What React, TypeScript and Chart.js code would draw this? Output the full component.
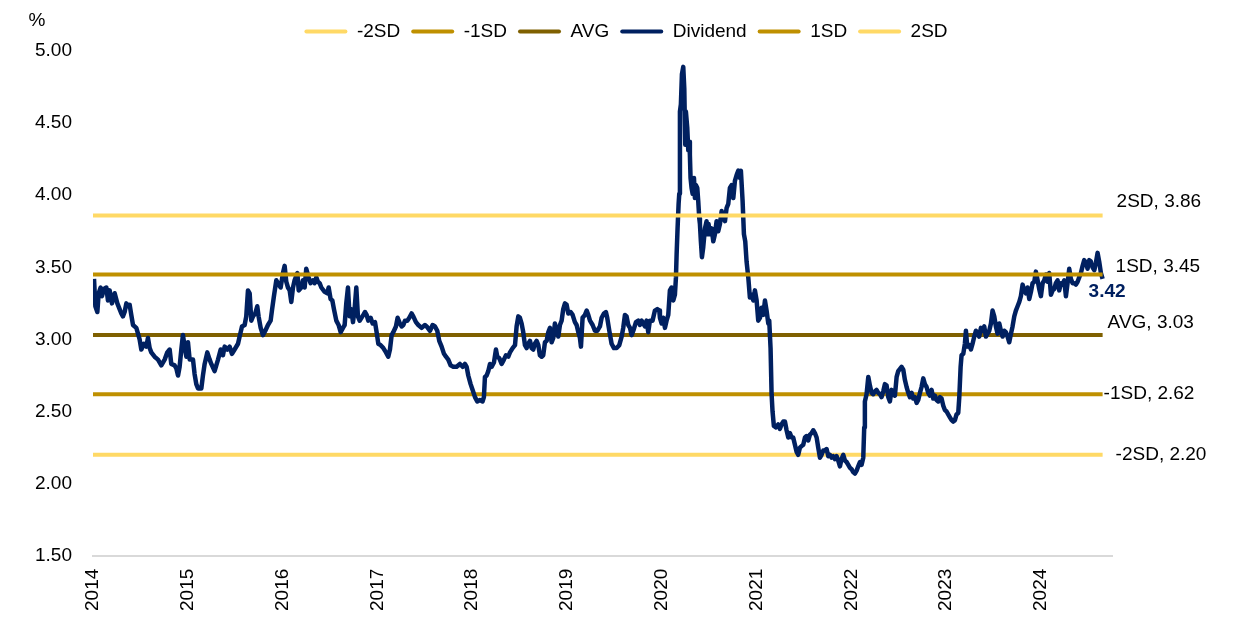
import { useEffect, useRef } from "react";
import { Chart, registerables } from "chart.js";

Chart.register(...registerables);

// Dividend yield series (%), x = decimal year
const divYears = [
  2014.011, 2014.025, 2014.046, 2014.060, 2014.081, 2014.095, 2014.116, 2014.141, 2014.158, 2014.176,
  2014.200, 2014.229, 2014.257, 2014.281, 2014.299, 2014.316, 2014.334, 2014.352, 2014.369, 2014.387,
  2014.404, 2014.422, 2014.457, 2014.475, 2014.492, 2014.510, 2014.538, 2014.563, 2014.580, 2014.598,
  2014.615, 2014.650, 2014.686, 2014.721, 2014.756, 2014.784, 2014.809, 2014.826, 2014.861, 2014.879,
  2014.897, 2014.914, 2014.932, 2014.949, 2014.967, 2014.985, 2015.002, 2015.020, 2015.055, 2015.072,
  2015.090, 2015.108, 2015.143, 2015.160, 2015.178, 2015.206, 2015.231, 2015.248, 2015.283, 2015.301,
  2015.319, 2015.347, 2015.371, 2015.389, 2015.417, 2015.442, 2015.466, 2015.494, 2015.530, 2015.547,
  2015.572, 2015.600, 2015.617, 2015.635, 2015.653, 2015.670, 2015.688, 2015.712, 2015.733, 2015.747,
  2015.769, 2015.793, 2015.818, 2015.846, 2015.874, 2015.888, 2015.909, 2015.934, 2015.951, 2015.980,
  2016.004, 2016.022, 2016.039, 2016.057, 2016.075, 2016.092, 2016.110, 2016.127, 2016.156, 2016.170,
  2016.198, 2016.215, 2016.233, 2016.250, 2016.275, 2016.296, 2016.321, 2016.338, 2016.356, 2016.373,
  2016.391, 2016.409, 2016.444, 2016.472, 2016.486, 2016.507, 2016.525, 2016.542, 2016.567, 2016.591,
  2016.613, 2016.637, 2016.655, 2016.672, 2016.690, 2016.707, 2016.725, 2016.743, 2016.760, 2016.778,
  2016.795, 2016.813, 2016.852, 2016.869, 2016.887, 2016.904, 2016.929, 2016.950, 2016.975, 2016.992,
  2017.010, 2017.035, 2017.063, 2017.091, 2017.115, 2017.133, 2017.151, 2017.168, 2017.196, 2017.214,
  2017.238, 2017.256, 2017.274, 2017.291, 2017.316, 2017.337, 2017.361, 2017.379, 2017.407, 2017.432,
  2017.467, 2017.502, 2017.520, 2017.555, 2017.583, 2017.608, 2017.632, 2017.653, 2017.678, 2017.703,
  2017.724, 2017.748, 2017.773, 2017.801, 2017.836, 2017.871, 2017.900, 2017.924, 2017.942, 2017.959,
  2017.984, 2018.005, 2018.030, 2018.054, 2018.082, 2018.110, 2018.124, 2018.135, 2018.153, 2018.170,
  2018.188, 2018.205, 2018.230, 2018.251, 2018.265, 2018.286, 2018.311, 2018.335, 2018.357, 2018.381,
  2018.399, 2018.427, 2018.452, 2018.469, 2018.487, 2018.504, 2018.522, 2018.539, 2018.557, 2018.575,
  2018.592, 2018.610, 2018.627, 2018.645, 2018.662, 2018.680, 2018.698, 2018.715, 2018.733, 2018.750,
  2018.768, 2018.786, 2018.803, 2018.821, 2018.838, 2018.856, 2018.873, 2018.891, 2018.909, 2018.926,
  2018.944, 2018.961, 2018.979, 2018.997, 2019.014, 2019.039, 2019.060, 2019.084, 2019.102, 2019.120,
  2019.137, 2019.148, 2019.165, 2019.190, 2019.208, 2019.225, 2019.243, 2019.271, 2019.295, 2019.320,
  2019.348, 2019.366, 2019.390, 2019.411, 2019.425, 2019.447, 2019.471, 2019.496, 2019.524, 2019.552,
  2019.577, 2019.594, 2019.612, 2019.629, 2019.647, 2019.665, 2019.682, 2019.700, 2019.728, 2019.752,
  2019.770, 2019.788, 2019.805, 2019.823, 2019.840, 2019.858, 2019.875, 2019.903, 2019.928, 2019.953,
  2019.974, 2019.981, 2019.999, 2020.016, 2020.034, 2020.051, 2020.069, 2020.086, 2020.104, 2020.122,
  2020.139, 2020.150, 2020.157, 2020.167, 2020.178, 2020.185, 2020.192, 2020.202, 2020.213, 2020.227,
  2020.238, 2020.248, 2020.255, 2020.269, 2020.280, 2020.290, 2020.297, 2020.304, 2020.315, 2020.326,
  2020.340, 2020.350, 2020.361, 2020.375, 2020.385, 2020.396, 2020.403, 2020.413, 2020.424, 2020.438,
  2020.456, 2020.473, 2020.484, 2020.494, 2020.508, 2020.526, 2020.544, 2020.561, 2020.579, 2020.596,
  2020.614, 2020.632, 2020.649, 2020.667, 2020.684, 2020.702, 2020.719, 2020.737, 2020.755, 2020.772,
  2020.790, 2020.807, 2020.825, 2020.835, 2020.853, 2020.867, 2020.881, 2020.895, 2020.913, 2020.930,
  2020.948, 2020.966, 2020.983, 2021.001, 2021.018, 2021.036, 2021.053, 2021.071, 2021.089, 2021.106,
  2021.124, 2021.134, 2021.148, 2021.159, 2021.169, 2021.183, 2021.205, 2021.229, 2021.247, 2021.264,
  2021.282, 2021.300, 2021.317, 2021.335, 2021.352, 2021.370, 2021.387, 2021.405, 2021.423, 2021.440,
  2021.458, 2021.475, 2021.493, 2021.511, 2021.528, 2021.546, 2021.563, 2021.581, 2021.598, 2021.616,
  2021.634, 2021.651, 2021.669, 2021.686, 2021.704, 2021.722, 2021.739, 2021.757, 2021.774, 2021.792,
  2021.809, 2021.827, 2021.845, 2021.862, 2021.880, 2021.897, 2021.915, 2021.933, 2021.950, 2021.968,
  2021.985, 2022.003, 2022.020, 2022.038, 2022.056, 2022.073, 2022.091, 2022.108, 2022.126, 2022.136,
  2022.143, 2022.161, 2022.179, 2022.196, 2022.214, 2022.231, 2022.249, 2022.266, 2022.284, 2022.302,
  2022.319, 2022.337, 2022.354, 2022.372, 2022.390, 2022.407, 2022.425, 2022.442, 2022.460, 2022.478,
  2022.495, 2022.530, 2022.548, 2022.565, 2022.583, 2022.601, 2022.618, 2022.636, 2022.653, 2022.671,
  2022.689, 2022.706, 2022.724, 2022.741, 2022.759, 2022.776, 2022.794, 2022.811, 2022.829, 2022.847,
  2022.864, 2022.882, 2022.899, 2022.917, 2022.935, 2022.952, 2022.970, 2022.987, 2023.005, 2023.022,
  2023.040, 2023.058, 2023.075, 2023.093, 2023.110, 2023.128, 2023.139, 2023.153, 2023.163, 2023.181,
  2023.198, 2023.209, 2023.223, 2023.244, 2023.262, 2023.279, 2023.297, 2023.314, 2023.332, 2023.349,
  2023.367, 2023.385, 2023.402, 2023.420, 2023.437, 2023.455, 2023.473, 2023.490, 2023.508, 2023.525,
  2023.543, 2023.561, 2023.578, 2023.596, 2023.613, 2023.631, 2023.648, 2023.666, 2023.684, 2023.701,
  2023.719, 2023.736, 2023.754, 2023.772, 2023.789, 2023.807, 2023.824, 2023.842, 2023.859, 2023.877,
  2023.895, 2023.912, 2023.930, 2023.947, 2023.965, 2023.982, 2024.000, 2024.018, 2024.035, 2024.053,
  2024.070, 2024.088, 2024.106, 2024.123, 2024.141, 2024.158, 2024.176, 2024.193, 2024.211, 2024.228,
  2024.246, 2024.264, 2024.281, 2024.299, 2024.316, 2024.334, 2024.352, 2024.369, 2024.387, 2024.404,
  2024.422, 2024.440, 2024.457, 2024.475, 2024.492, 2024.510, 2024.527, 2024.545, 2024.563, 2024.580,
  2024.598, 2024.615, 2024.633, 2024.651,
];

const divValues = [
  3.42, 3.23, 3.19, 3.32, 3.36, 3.30, 3.35, 3.36, 3.27, 3.34,
  3.25, 3.32, 3.25, 3.21, 3.18, 3.16, 3.19, 3.25, 3.23, 3.24,
  3.17, 3.10, 3.08, 3.04, 3.00, 2.93, 2.97, 2.95, 3.01, 2.94,
  2.91, 2.88, 2.86, 2.82, 2.86, 2.91, 2.93, 2.83, 2.82, 2.80,
  2.75, 2.81, 2.93, 3.03, 2.95, 2.88, 2.98, 2.86, 2.86, 2.76,
  2.69, 2.66, 2.66, 2.75, 2.83, 2.91, 2.86, 2.83, 2.78, 2.82,
  2.86, 2.93, 2.89, 2.95, 2.93, 2.95, 2.90, 2.93, 2.97, 3.02,
  3.09, 3.10, 3.16, 3.34, 3.32, 3.13, 3.16, 3.18, 3.23, 3.16,
  3.08, 3.03, 3.06, 3.10, 3.13, 3.20, 3.30, 3.41, 3.39, 3.36,
  3.46, 3.51, 3.40, 3.36, 3.34, 3.26, 3.36, 3.41, 3.46, 3.34,
  3.36, 3.41, 3.36, 3.49, 3.43, 3.39, 3.41, 3.39, 3.43, 3.40,
  3.39, 3.36, 3.33, 3.32, 3.36, 3.28, 3.27, 3.21, 3.13, 3.10,
  3.05, 3.08, 3.10, 3.25, 3.36, 3.16, 3.21, 3.12, 3.21, 3.36,
  3.16, 3.13, 3.17, 3.19, 3.17, 3.13, 3.15, 3.11, 3.12, 3.05,
  2.97, 2.96, 2.94, 2.91, 2.88, 2.93, 3.03, 3.05, 3.09, 3.15,
  3.11, 3.09, 3.10, 3.13, 3.13, 3.15, 3.18, 3.16, 3.12, 3.10,
  3.08, 3.10, 3.09, 3.06, 3.10, 3.09, 3.06, 2.99, 2.95, 2.90,
  2.88, 2.86, 2.82, 2.81, 2.81, 2.83, 2.81, 2.83, 2.81, 2.75,
  2.69, 2.65, 2.60, 2.57, 2.58, 2.57, 2.60, 2.74, 2.75, 2.78,
  2.83, 2.81, 2.84, 2.93, 2.88, 2.87, 2.83, 2.86, 2.89, 2.88,
  2.91, 2.94, 2.96, 3.09, 3.16, 3.15, 3.11, 3.05, 2.96, 2.94,
  2.97, 2.99, 2.94, 2.93, 2.97, 2.99, 2.96, 2.89, 2.88, 2.89,
  2.98, 2.99, 3.05, 3.08, 2.98, 3.01, 3.11, 3.06, 3.02, 3.10,
  3.13, 3.21, 3.25, 3.24, 3.18, 3.19, 3.17, 3.12, 3.10, 3.05,
  3.01, 2.95, 3.15, 3.17, 3.20, 3.17, 3.13, 3.10, 3.06, 3.06,
  3.09, 3.15, 3.18, 3.19, 3.15, 3.06, 2.97, 2.94, 2.94, 2.96,
  3.02, 3.08, 3.17, 3.16, 3.10, 3.08, 3.03, 3.06, 3.12, 3.13,
  3.10, 3.13, 3.11, 3.09, 3.13, 3.05, 3.13, 3.13, 3.20, 3.21,
  3.20, 3.15, 3.11, 3.15, 3.08, 3.13, 3.17, 3.34, 3.36, 3.27,
  3.31, 3.43, 3.59, 3.77, 3.94, 4.01, 4.58, 4.63, 4.84, 4.89,
  4.74, 4.35, 4.58, 4.47, 4.31, 4.37, 4.28, 4.12, 4.05, 4.01,
  4.12, 3.98, 4.07, 4.05, 3.96, 3.84, 3.80, 3.68, 3.57, 3.64,
  3.77, 3.82, 3.73, 3.80, 3.73, 3.77, 3.68, 3.73, 3.82, 3.75,
  3.80, 3.89, 3.84, 3.82, 3.91, 3.94, 4.05, 4.07, 3.98, 4.10,
  4.14, 4.17, 4.12, 4.17, 3.96, 3.73, 3.68, 3.54, 3.43, 3.29,
  3.31, 3.27, 3.34, 3.27, 3.13, 3.15, 3.22, 3.17, 3.27, 3.20,
  3.11, 3.13, 2.94, 2.62, 2.50, 2.40, 2.39, 2.41, 2.38, 2.41,
  2.43, 2.43, 2.37, 2.32, 2.35, 2.32, 2.32, 2.27, 2.22, 2.20,
  2.25, 2.26, 2.27, 2.32, 2.33, 2.30, 2.34, 2.35, 2.37, 2.35,
  2.32, 2.25, 2.18, 2.20, 2.23, 2.23, 2.24, 2.19, 2.20, 2.18,
  2.19, 2.17, 2.19, 2.16, 2.12, 2.17, 2.20, 2.16, 2.15, 2.13,
  2.11, 2.10, 2.08, 2.07, 2.09, 2.12, 2.15, 2.13, 2.18, 2.39,
  2.57, 2.62, 2.74, 2.68, 2.63, 2.62, 2.64, 2.65, 2.63, 2.62,
  2.60, 2.64, 2.69, 2.68, 2.60, 2.57, 2.65, 2.62, 2.61, 2.74,
  2.78, 2.81, 2.79, 2.72, 2.67, 2.63, 2.60, 2.63, 2.59, 2.60,
  2.56, 2.58, 2.63, 2.67, 2.73, 2.69, 2.67, 2.63, 2.61, 2.65,
  2.59, 2.61, 2.58, 2.57, 2.60, 2.59, 2.54, 2.51, 2.50, 2.48,
  2.46, 2.44, 2.43, 2.44, 2.48, 2.49, 2.60, 2.81, 2.89, 2.90,
  2.97, 3.06, 2.95, 2.96, 2.93, 2.97, 3.02, 3.06, 3.04, 3.02,
  3.08, 3.06, 3.09, 3.02, 3.04, 3.06, 3.11, 3.20, 3.16, 3.09,
  3.04, 3.11, 3.06, 3.02, 3.06, 3.05, 3.02, 2.98, 3.04, 3.09,
  3.16, 3.20, 3.23, 3.26, 3.30, 3.38, 3.34, 3.32, 3.36, 3.28,
  3.33, 3.39, 3.40, 3.47, 3.41, 3.35, 3.30, 3.39, 3.41, 3.45,
  3.40, 3.46, 3.31, 3.34, 3.35, 3.39, 3.41, 3.34, 3.39, 3.38,
  3.41, 3.30, 3.39, 3.49, 3.42, 3.39, 3.39, 3.38, 3.40, 3.43,
  3.46, 3.51, 3.55, 3.53, 3.49, 3.55, 3.54, 3.50, 3.48, 3.53,
  3.60, 3.54, 3.46, 3.42,
];

// Standard-deviation bands
const bandLabels = ["-2SD", "-1SD", "AVG", "1SD", "2SD"];
const bandValues = [2.2, 2.62, 3.03, 3.45, 3.86];

const startYear = 2014;
const axisEndYear = 2024.75;

const NAVY = "#002060";
const bandColors = ["#FFD966", "#BF9000", "#7F6000", "#BF9000", "#FFD966"];
// label offsets (px) relative to the band's end point
const bandLabelOffsets = [
  [13, 0],
  [1, 0],
  [5, -12],
  [13, -8],
  [14, -14],
];

const FONT = '"Liberation Sans", Arial, sans-serif';

export default function App() {
  const canvasRef = useRef<HTMLCanvasElement | null>(null);

  useEffect(() => {
    const canvas = canvasRef.current;
    if (!canvas) return;
    const lastYear = divYears[divYears.length - 1];
    const lastValue = divValues[divValues.length - 1];

    const bandDataset = (i: number) => ({
      label: bandLabels[i],
      data: [
        { x: startYear, y: bandValues[i] },
        { x: lastYear, y: bandValues[i] },
      ],
      borderColor: bandColors[i],
      backgroundColor: bandColors[i],
      borderWidth: 4,
      pointRadius: 0,
      borderCapStyle: "butt" as const,
    });

    const divDataset = {
      label: "Dividend",
      data: divYears.map((x, i) => ({ x, y: divValues[i] })),
      borderColor: NAVY,
      backgroundColor: NAVY,
      borderWidth: 4.5,
      pointRadius: 0,
      tension: 0,
      borderJoinStyle: "round" as const,
    };

    const datasets: any[] = [
      bandDataset(0),
      bandDataset(1),
      bandDataset(2),
      divDataset,
      bandDataset(3),
      bandDataset(4),
    ];
    // later series are drawn on top (Excel-like order)
    datasets.forEach((d, i) => (d.order = datasets.length - i));

    const legendShift = {
      id: "legendShift",
      afterLayout(chart: any) {
        if (chart.legend) {
          chart.legend.left += 63;
          chart.legend.right += 63;
        }
      },
    };

    const labelPlugin = {
      id: "endLabels",
      afterDatasetsDraw(chart: any) {
        const { ctx, scales } = chart;
        const xs = scales.x;
        const ys = scales.y;
        const xEnd = xs.getPixelForValue(lastYear);
        ctx.save();
        ctx.textBaseline = "middle";
        ctx.textAlign = "left";
        ctx.font = `19px ${FONT}`;
        ctx.fillStyle = "#000000";
        bandLabels.forEach((lab, i) => {
          const py = ys.getPixelForValue(bandValues[i]);
          const [dx, dy] = bandLabelOffsets[i];
          ctx.fillText(`${lab}, ${bandValues[i].toFixed(2)}`, xEnd + dx, py + dy);
        });
        ctx.font = `bold 19px ${FONT}`;
        ctx.fillStyle = NAVY;
        ctx.fillText(lastValue.toFixed(2), xEnd - 14, ys.getPixelForValue(lastValue) + 13);
        ctx.font = `19px ${FONT}`;
        ctx.fillStyle = "#000000";
        ctx.textAlign = "center";
        ctx.fillText("%", 37, 21);
        ctx.restore();
      },
    };

    const chart = new Chart(canvas, {
      type: "line",
      data: { datasets },
      options: {
        animation: false,
        responsive: false,
        events: [],
        layout: { padding: { top: 11, left: 14, right: 138, bottom: 11 } },
        plugins: {
          tooltip: { enabled: false },
          legend: {
            position: "top",
            labels: {
              boxWidth: 43,
              boxHeight: 4,
              padding: 11,
              color: "#000000",
              font: { family: FONT, size: 19 },
              generateLabels: (c: any) =>
                c.data.datasets.map((d: any, i: number) => ({
                  text: d.label,
                  fillStyle: d.borderColor,
                  strokeStyle: d.borderColor,
                  lineWidth: 0,
                  hidden: false,
                  datasetIndex: i,
                  borderRadius: 2,
                  fontColor: "#000000",
                })),
            },
          },
        },
        scales: {
          x: {
            type: "linear",
            min: startYear,
            max: axisEndYear,
            grid: { display: false, drawTicks: false },
            border: { display: true, color: "#D9D9D9", width: 2 },
            ticks: {
              stepSize: 1,
              includeBounds: false,
              autoSkip: false,
              minRotation: 90,
              maxRotation: 90,
              padding: 13,
              color: "#000000",
              font: { family: FONT, size: 19 },
              callback: (v: any) => (Number.isInteger(v) ? String(v) : ""),
            },
          },
          y: {
            min: 1.5,
            max: 5,
            grid: { display: false, drawTicks: false },
            border: { display: false },
            ticks: {
              stepSize: 0.5,
              padding: 21,
              color: "#000000",
              font: { family: FONT, size: 19 },
              callback: (v: any) => Number(v).toFixed(2),
            },
          },
        },
      },
      plugins: [legendShift, labelPlugin],
    });

    return () => chart.destroy();
  }, []);

  return (
    <div style={{ position: "absolute", left: 0, top: 0, width: 1250, height: 635, background: "#ffffff" }}>
      <canvas ref={canvasRef} width={1250} height={635} style={{ display: "block" }} />
    </div>
  );
}
